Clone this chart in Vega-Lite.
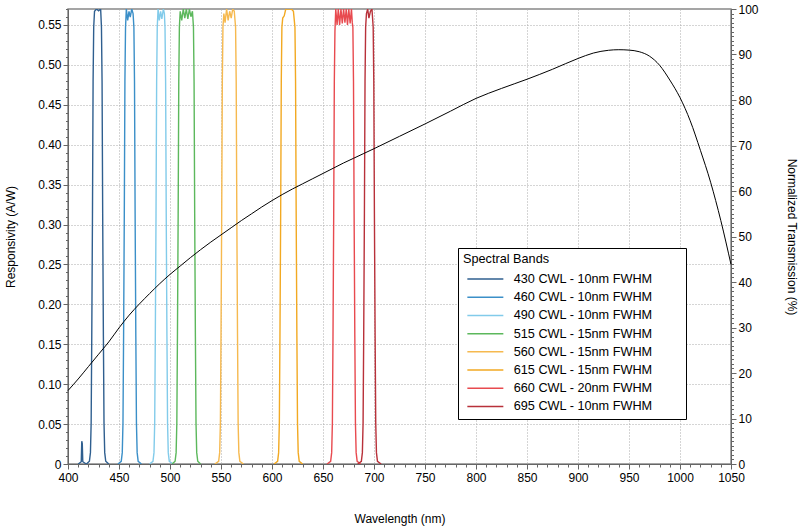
{
  "$schema": "https://vega.github.io/schema/vega-lite/v6.json",
  "width": 663,
  "height": 455,
  "autosize": {"type": "none"},
  "padding": {"left": 68, "top": 9, "right": 69, "bottom": 66},
  "config": {
    "font": "Liberation Sans",
    "view": {"stroke": "#888888", "strokeWidth": 1.5},
    "axis": {"domainColor": "#666666", "tickColor": "#666666", "labelColor": "black", "titleColor": "black", "labelFontSize": 12, "titleFontSize": 12, "titleFontWeight": "normal", "gridColor": "#aaaaaa", "gridDash": [1, 2]}
  },
  "datasets": {
    "resp": [
      {"nm": 400, "r": 0.092}, {"nm": 410, "r": 0.1065}, {"nm": 420, "r": 0.122}, {"nm": 430, "r": 0.1375},
      {"nm": 440, "r": 0.153}, {"nm": 450, "r": 0.1705}, {"nm": 460, "r": 0.1865}, {"nm": 470, "r": 0.2005},
      {"nm": 480, "r": 0.2135}, {"nm": 490, "r": 0.226}, {"nm": 500, "r": 0.2375}, {"nm": 510, "r": 0.248},
      {"nm": 520, "r": 0.2585}, {"nm": 530, "r": 0.2685}, {"nm": 540, "r": 0.278}, {"nm": 550, "r": 0.287},
      {"nm": 560, "r": 0.296}, {"nm": 570, "r": 0.305}, {"nm": 580, "r": 0.3135}, {"nm": 590, "r": 0.322},
      {"nm": 600, "r": 0.330}, {"nm": 610, "r": 0.3375}, {"nm": 620, "r": 0.3445}, {"nm": 630, "r": 0.351},
      {"nm": 640, "r": 0.3575}, {"nm": 650, "r": 0.364}, {"nm": 660, "r": 0.3705}, {"nm": 670, "r": 0.377},
      {"nm": 680, "r": 0.383}, {"nm": 690, "r": 0.389}, {"nm": 700, "r": 0.395}, {"nm": 725, "r": 0.4105},
      {"nm": 750, "r": 0.426}, {"nm": 775, "r": 0.442}, {"nm": 800, "r": 0.458}, {"nm": 825, "r": 0.4705},
      {"nm": 850, "r": 0.482}, {"nm": 875, "r": 0.4945}, {"nm": 900, "r": 0.508}, {"nm": 915, "r": 0.5148},
      {"nm": 930, "r": 0.5183}, {"nm": 940, "r": 0.519}, {"nm": 950, "r": 0.5185}, {"nm": 960, "r": 0.5165},
      {"nm": 970, "r": 0.511}, {"nm": 980, "r": 0.4995}, {"nm": 990, "r": 0.481}, {"nm": 1000, "r": 0.459},
      {"nm": 1010, "r": 0.430}, {"nm": 1020, "r": 0.393}, {"nm": 1030, "r": 0.353}, {"nm": 1040, "r": 0.305},
      {"nm": 1050, "r": 0.250}
    ],
    "bands": [
      {"band": "430 CWL - 10nm FWHM", "nm": 410, "t": 0},
      {"band": "430 CWL - 10nm FWHM", "nm": 413, "t": 0.5},
      {"band": "430 CWL - 10nm FWHM", "nm": 413.5, "t": 5},
      {"band": "430 CWL - 10nm FWHM", "nm": 414, "t": 4.5},
      {"band": "430 CWL - 10nm FWHM", "nm": 414.5, "t": 0.5},
      {"band": "430 CWL - 10nm FWHM", "nm": 418, "t": 0},
      {"band": "430 CWL - 10nm FWHM", "nm": 421, "t": 0.6},
      {"band": "430 CWL - 10nm FWHM", "nm": 422, "t": 2.5},
      {"band": "430 CWL - 10nm FWHM", "nm": 422.7, "t": 9},
      {"band": "430 CWL - 10nm FWHM", "nm": 423.3, "t": 28},
      {"band": "430 CWL - 10nm FWHM", "nm": 424, "t": 55},
      {"band": "430 CWL - 10nm FWHM", "nm": 424.6, "t": 84},
      {"band": "430 CWL - 10nm FWHM", "nm": 425.2, "t": 96},
      {"band": "430 CWL - 10nm FWHM", "nm": 426, "t": 99.5},
      {"band": "430 CWL - 10nm FWHM", "nm": 428, "t": 100},
      {"band": "430 CWL - 10nm FWHM", "nm": 430, "t": 99.6},
      {"band": "430 CWL - 10nm FWHM", "nm": 432, "t": 100},
      {"band": "430 CWL - 10nm FWHM", "nm": 432.8, "t": 96},
      {"band": "430 CWL - 10nm FWHM", "nm": 433.4, "t": 84},
      {"band": "430 CWL - 10nm FWHM", "nm": 434, "t": 55},
      {"band": "430 CWL - 10nm FWHM", "nm": 434.7, "t": 28},
      {"band": "430 CWL - 10nm FWHM", "nm": 435.3, "t": 9},
      {"band": "430 CWL - 10nm FWHM", "nm": 436, "t": 2.5},
      {"band": "430 CWL - 10nm FWHM", "nm": 437, "t": 0.6},
      {"band": "430 CWL - 10nm FWHM", "nm": 440, "t": 0},

      {"band": "460 CWL - 10nm FWHM", "nm": 449, "t": 0},
      {"band": "460 CWL - 10nm FWHM", "nm": 452.2, "t": 0.6},
      {"band": "460 CWL - 10nm FWHM", "nm": 453.2, "t": 2.5},
      {"band": "460 CWL - 10nm FWHM", "nm": 453.9, "t": 9},
      {"band": "460 CWL - 10nm FWHM", "nm": 454.5, "t": 28},
      {"band": "460 CWL - 10nm FWHM", "nm": 455.2, "t": 55},
      {"band": "460 CWL - 10nm FWHM", "nm": 455.8, "t": 84},
      {"band": "460 CWL - 10nm FWHM", "nm": 456.4, "t": 96},
      {"band": "460 CWL - 10nm FWHM", "nm": 457.2, "t": 100},
      {"band": "460 CWL - 10nm FWHM", "nm": 458.5, "t": 97.5},
      {"band": "460 CWL - 10nm FWHM", "nm": 459.8, "t": 99.5},
      {"band": "460 CWL - 10nm FWHM", "nm": 461, "t": 98.2},
      {"band": "460 CWL - 10nm FWHM", "nm": 462.5, "t": 100},
      {"band": "460 CWL - 10nm FWHM", "nm": 463.8, "t": 99},
      {"band": "460 CWL - 10nm FWHM", "nm": 464.6, "t": 96},
      {"band": "460 CWL - 10nm FWHM", "nm": 465.2, "t": 84},
      {"band": "460 CWL - 10nm FWHM", "nm": 465.8, "t": 55},
      {"band": "460 CWL - 10nm FWHM", "nm": 466.5, "t": 28},
      {"band": "460 CWL - 10nm FWHM", "nm": 467.1, "t": 9},
      {"band": "460 CWL - 10nm FWHM", "nm": 467.8, "t": 2.5},
      {"band": "460 CWL - 10nm FWHM", "nm": 468.8, "t": 0.6},
      {"band": "460 CWL - 10nm FWHM", "nm": 472, "t": 0},

      {"band": "490 CWL - 10nm FWHM", "nm": 480, "t": 0},
      {"band": "490 CWL - 10nm FWHM", "nm": 483.3, "t": 0.6},
      {"band": "490 CWL - 10nm FWHM", "nm": 484.3, "t": 2.5},
      {"band": "490 CWL - 10nm FWHM", "nm": 485, "t": 9},
      {"band": "490 CWL - 10nm FWHM", "nm": 485.6, "t": 28},
      {"band": "490 CWL - 10nm FWHM", "nm": 486.3, "t": 55},
      {"band": "490 CWL - 10nm FWHM", "nm": 486.9, "t": 84},
      {"band": "490 CWL - 10nm FWHM", "nm": 487.5, "t": 96},
      {"band": "490 CWL - 10nm FWHM", "nm": 488.3, "t": 100},
      {"band": "490 CWL - 10nm FWHM", "nm": 489.5, "t": 97.5},
      {"band": "490 CWL - 10nm FWHM", "nm": 490.8, "t": 99.5},
      {"band": "490 CWL - 10nm FWHM", "nm": 492, "t": 97.8},
      {"band": "490 CWL - 10nm FWHM", "nm": 493.5, "t": 100},
      {"band": "490 CWL - 10nm FWHM", "nm": 494.5, "t": 99},
      {"band": "490 CWL - 10nm FWHM", "nm": 495.1, "t": 96},
      {"band": "490 CWL - 10nm FWHM", "nm": 495.7, "t": 84},
      {"band": "490 CWL - 10nm FWHM", "nm": 496.3, "t": 55},
      {"band": "490 CWL - 10nm FWHM", "nm": 497, "t": 28},
      {"band": "490 CWL - 10nm FWHM", "nm": 497.6, "t": 9},
      {"band": "490 CWL - 10nm FWHM", "nm": 498.3, "t": 2.5},
      {"band": "490 CWL - 10nm FWHM", "nm": 499.3, "t": 0.6},
      {"band": "490 CWL - 10nm FWHM", "nm": 503, "t": 0},

      {"band": "515 CWL - 15nm FWHM", "nm": 502, "t": 0},
      {"band": "515 CWL - 15nm FWHM", "nm": 505, "t": 0.6},
      {"band": "515 CWL - 15nm FWHM", "nm": 506, "t": 2.5},
      {"band": "515 CWL - 15nm FWHM", "nm": 506.7, "t": 9},
      {"band": "515 CWL - 15nm FWHM", "nm": 507.3, "t": 28},
      {"band": "515 CWL - 15nm FWHM", "nm": 508, "t": 55},
      {"band": "515 CWL - 15nm FWHM", "nm": 508.6, "t": 84},
      {"band": "515 CWL - 15nm FWHM", "nm": 509.2, "t": 96},
      {"band": "515 CWL - 15nm FWHM", "nm": 510, "t": 99.5},
      {"band": "515 CWL - 15nm FWHM", "nm": 511.5, "t": 97.5},
      {"band": "515 CWL - 15nm FWHM", "nm": 513, "t": 100},
      {"band": "515 CWL - 15nm FWHM", "nm": 514.5, "t": 98},
      {"band": "515 CWL - 15nm FWHM", "nm": 516, "t": 100},
      {"band": "515 CWL - 15nm FWHM", "nm": 517.5, "t": 97.8},
      {"band": "515 CWL - 15nm FWHM", "nm": 519, "t": 100},
      {"band": "515 CWL - 15nm FWHM", "nm": 520.5, "t": 98.3},
      {"band": "515 CWL - 15nm FWHM", "nm": 522, "t": 99.5},
      {"band": "515 CWL - 15nm FWHM", "nm": 523, "t": 96},
      {"band": "515 CWL - 15nm FWHM", "nm": 523.6, "t": 84},
      {"band": "515 CWL - 15nm FWHM", "nm": 524.2, "t": 55},
      {"band": "515 CWL - 15nm FWHM", "nm": 524.9, "t": 28},
      {"band": "515 CWL - 15nm FWHM", "nm": 525.5, "t": 9},
      {"band": "515 CWL - 15nm FWHM", "nm": 526.2, "t": 2.5},
      {"band": "515 CWL - 15nm FWHM", "nm": 527.2, "t": 0.6},
      {"band": "515 CWL - 15nm FWHM", "nm": 530, "t": 0},

      {"band": "560 CWL - 15nm FWHM", "nm": 544, "t": 0},
      {"band": "560 CWL - 15nm FWHM", "nm": 547.7, "t": 0.6},
      {"band": "560 CWL - 15nm FWHM", "nm": 548.7, "t": 2.5},
      {"band": "560 CWL - 15nm FWHM", "nm": 549.4, "t": 9},
      {"band": "560 CWL - 15nm FWHM", "nm": 550, "t": 28},
      {"band": "560 CWL - 15nm FWHM", "nm": 550.7, "t": 55},
      {"band": "560 CWL - 15nm FWHM", "nm": 551.3, "t": 84},
      {"band": "560 CWL - 15nm FWHM", "nm": 551.9, "t": 96},
      {"band": "560 CWL - 15nm FWHM", "nm": 552.8, "t": 99},
      {"band": "560 CWL - 15nm FWHM", "nm": 554, "t": 97},
      {"band": "560 CWL - 15nm FWHM", "nm": 555.5, "t": 100},
      {"band": "560 CWL - 15nm FWHM", "nm": 557, "t": 97.5},
      {"band": "560 CWL - 15nm FWHM", "nm": 558.5, "t": 99.5},
      {"band": "560 CWL - 15nm FWHM", "nm": 560, "t": 98},
      {"band": "560 CWL - 15nm FWHM", "nm": 561.5, "t": 100},
      {"band": "560 CWL - 15nm FWHM", "nm": 563, "t": 99.5},
      {"band": "560 CWL - 15nm FWHM", "nm": 564.3, "t": 96},
      {"band": "560 CWL - 15nm FWHM", "nm": 564.9, "t": 84},
      {"band": "560 CWL - 15nm FWHM", "nm": 565.5, "t": 55},
      {"band": "560 CWL - 15nm FWHM", "nm": 566.2, "t": 28},
      {"band": "560 CWL - 15nm FWHM", "nm": 566.8, "t": 9},
      {"band": "560 CWL - 15nm FWHM", "nm": 567.5, "t": 2.5},
      {"band": "560 CWL - 15nm FWHM", "nm": 568.5, "t": 0.6},
      {"band": "560 CWL - 15nm FWHM", "nm": 572, "t": 0},

      {"band": "615 CWL - 15nm FWHM", "nm": 602, "t": 0},
      {"band": "615 CWL - 15nm FWHM", "nm": 605.5, "t": 0.6},
      {"band": "615 CWL - 15nm FWHM", "nm": 606.5, "t": 2.5},
      {"band": "615 CWL - 15nm FWHM", "nm": 607.2, "t": 9},
      {"band": "615 CWL - 15nm FWHM", "nm": 607.8, "t": 28},
      {"band": "615 CWL - 15nm FWHM", "nm": 608.5, "t": 55},
      {"band": "615 CWL - 15nm FWHM", "nm": 609.1, "t": 84},
      {"band": "615 CWL - 15nm FWHM", "nm": 609.7, "t": 96},
      {"band": "615 CWL - 15nm FWHM", "nm": 610.5, "t": 98},
      {"band": "615 CWL - 15nm FWHM", "nm": 612, "t": 98.5},
      {"band": "615 CWL - 15nm FWHM", "nm": 613.5, "t": 100},
      {"band": "615 CWL - 15nm FWHM", "nm": 616, "t": 100},
      {"band": "615 CWL - 15nm FWHM", "nm": 619, "t": 100},
      {"band": "615 CWL - 15nm FWHM", "nm": 621, "t": 99.5},
      {"band": "615 CWL - 15nm FWHM", "nm": 622.5, "t": 96},
      {"band": "615 CWL - 15nm FWHM", "nm": 623.1, "t": 84},
      {"band": "615 CWL - 15nm FWHM", "nm": 623.7, "t": 55},
      {"band": "615 CWL - 15nm FWHM", "nm": 624.4, "t": 28},
      {"band": "615 CWL - 15nm FWHM", "nm": 625, "t": 9},
      {"band": "615 CWL - 15nm FWHM", "nm": 625.7, "t": 2.5},
      {"band": "615 CWL - 15nm FWHM", "nm": 626.7, "t": 0.6},
      {"band": "615 CWL - 15nm FWHM", "nm": 630, "t": 0},

      {"band": "660 CWL - 20nm FWHM", "nm": 654, "t": 0},
      {"band": "660 CWL - 20nm FWHM", "nm": 657.5, "t": 0.6},
      {"band": "660 CWL - 20nm FWHM", "nm": 658.5, "t": 2.5},
      {"band": "660 CWL - 20nm FWHM", "nm": 659.2, "t": 9},
      {"band": "660 CWL - 20nm FWHM", "nm": 659.8, "t": 28},
      {"band": "660 CWL - 20nm FWHM", "nm": 660.5, "t": 55},
      {"band": "660 CWL - 20nm FWHM", "nm": 661.1, "t": 84},
      {"band": "660 CWL - 20nm FWHM", "nm": 661.7, "t": 95},
      {"band": "660 CWL - 20nm FWHM", "nm": 662.5, "t": 100},
      {"band": "660 CWL - 20nm FWHM", "nm": 663.8, "t": 96.5},
      {"band": "660 CWL - 20nm FWHM", "nm": 665, "t": 100},
      {"band": "660 CWL - 20nm FWHM", "nm": 666.3, "t": 96.5},
      {"band": "660 CWL - 20nm FWHM", "nm": 667.6, "t": 100},
      {"band": "660 CWL - 20nm FWHM", "nm": 668.9, "t": 96.8},
      {"band": "660 CWL - 20nm FWHM", "nm": 670.2, "t": 100},
      {"band": "660 CWL - 20nm FWHM", "nm": 671.5, "t": 97},
      {"band": "660 CWL - 20nm FWHM", "nm": 672.8, "t": 100},
      {"band": "660 CWL - 20nm FWHM", "nm": 674, "t": 96.5},
      {"band": "660 CWL - 20nm FWHM", "nm": 675.3, "t": 100},
      {"band": "660 CWL - 20nm FWHM", "nm": 676.6, "t": 96.8},
      {"band": "660 CWL - 20nm FWHM", "nm": 677.9, "t": 100},
      {"band": "660 CWL - 20nm FWHM", "nm": 678.7, "t": 97},
      {"band": "660 CWL - 20nm FWHM", "nm": 679.3, "t": 96},
      {"band": "660 CWL - 20nm FWHM", "nm": 679.9, "t": 84},
      {"band": "660 CWL - 20nm FWHM", "nm": 680.5, "t": 55},
      {"band": "660 CWL - 20nm FWHM", "nm": 681.2, "t": 28},
      {"band": "660 CWL - 20nm FWHM", "nm": 681.8, "t": 9},
      {"band": "660 CWL - 20nm FWHM", "nm": 682.5, "t": 2.5},
      {"band": "660 CWL - 20nm FWHM", "nm": 683.5, "t": 0.6},
      {"band": "660 CWL - 20nm FWHM", "nm": 687, "t": 0},

      {"band": "695 CWL - 10nm FWHM", "nm": 684, "t": 0},
      {"band": "695 CWL - 10nm FWHM", "nm": 687.6, "t": 0.6},
      {"band": "695 CWL - 10nm FWHM", "nm": 688.6, "t": 2.5},
      {"band": "695 CWL - 10nm FWHM", "nm": 689.3, "t": 9},
      {"band": "695 CWL - 10nm FWHM", "nm": 689.9, "t": 28},
      {"band": "695 CWL - 10nm FWHM", "nm": 690.6, "t": 55},
      {"band": "695 CWL - 10nm FWHM", "nm": 691.2, "t": 84},
      {"band": "695 CWL - 10nm FWHM", "nm": 691.8, "t": 96},
      {"band": "695 CWL - 10nm FWHM", "nm": 692.6, "t": 99},
      {"band": "695 CWL - 10nm FWHM", "nm": 693.8, "t": 100},
      {"band": "695 CWL - 10nm FWHM", "nm": 695, "t": 98},
      {"band": "695 CWL - 10nm FWHM", "nm": 696.5, "t": 99.5},
      {"band": "695 CWL - 10nm FWHM", "nm": 698, "t": 100},
      {"band": "695 CWL - 10nm FWHM", "nm": 699.2, "t": 96},
      {"band": "695 CWL - 10nm FWHM", "nm": 699.8, "t": 84},
      {"band": "695 CWL - 10nm FWHM", "nm": 700.4, "t": 55},
      {"band": "695 CWL - 10nm FWHM", "nm": 701.1, "t": 28},
      {"band": "695 CWL - 10nm FWHM", "nm": 701.7, "t": 9},
      {"band": "695 CWL - 10nm FWHM", "nm": 702.4, "t": 2.5},
      {"band": "695 CWL - 10nm FWHM", "nm": 703.4, "t": 0.6},
      {"band": "695 CWL - 10nm FWHM", "nm": 707, "t": 0}
    ]
  },
  "layer": [
    {
      "data": {"name": "bands"},
      "mark": {"type": "line", "strokeWidth": 1.4, "clip": true},
      "encoding": {
        "x": {"field": "nm", "type": "quantitative", "scale": {"domain": [400, 1050], "nice": false, "zero": false}, "axis": null},
        "y": {
          "field": "t", "type": "quantitative",
          "scale": {"domain": [0, 100], "nice": false},
          "axis": {"orient": "right", "values": [0, 10, 20, 30, 40, 50, 60, 70, 80, 90, 100], "grid": false, "tickSize": 5, "labelPadding": 2, "title": "Normalized Transmission (%)", "titlePadding": 26}
        },
        "color": {
          "field": "band", "type": "nominal",
          "scale": {
            "domain": ["430 CWL - 10nm FWHM", "460 CWL - 10nm FWHM", "490 CWL - 10nm FWHM", "515 CWL - 15nm FWHM", "560 CWL - 15nm FWHM", "615 CWL - 15nm FWHM", "660 CWL - 20nm FWHM", "695 CWL - 10nm FWHM"],
            "range": ["#2f5f8f", "#3b8fc8", "#82cbea", "#5cb85c", "#f6b94f", "#f2a922", "#e84a4f", "#b8313a"]
          },
          "legend": {
            "orient": "none", "legendX": 390, "legendY": 239,
            "title": "Spectral Bands", "titleFontSize": 12.7, "titleFontWeight": "normal", "titleColor": "black", "titlePadding": 7,
            "labelFontSize": 12.7, "labelColor": "black", "labelOffset": 22, "labelLimit": 0,
            "labelExpr": "datum.label + '\u00a0\u00a0\u00a0\u00a0\u00a0\u2800'",
            "symbolType": "M-9,0H9", "symbolSize": 16, "symbolOffset": 16, "symbolStrokeWidth": 1.5,
            "strokeColor": "black", "fillColor": "white", "padding": 5, "rowPadding": 4.2
          }
        }
      }
    },
    {
      "data": {"name": "resp"},
      "mark": {"type": "line", "color": "black", "strokeWidth": 1, "interpolate": "monotone"},
      "encoding": {
        "x": {
          "field": "nm", "type": "quantitative", "scale": {"domain": [400, 1050], "nice": false, "zero": false},
          "axis": {"orient": "bottom", "values": [400, 450, 500, 550, 600, 650, 700, 750, 800, 850, 900, 950, 1000, 1050], "format": "d", "labelFlush": false, "grid": true, "tickSize": 5, "labelPadding": 3, "title": "Wavelength (nm)", "titlePadding": 30}
        },
        "y": {
          "field": "r", "type": "quantitative",
          "scale": {"domain": [0, 0.57], "nice": false},
          "axis": {"orient": "left", "values": [0, 0.05, 0.1, 0.15, 0.2, 0.25, 0.3, 0.35, 0.4, 0.45, 0.5, 0.55], "grid": true, "tickSize": 5, "labelPadding": 2, "labelExpr": "datum.value == 0 ? '0' : format(datum.value, '.2f')", "title": "Responsivity (A/W)", "titlePadding": 20}
        }
      }
    },
    {
      "data": {"name": "resp"},
      "mark": {"type": "line", "opacity": 0},
      "encoding": {
        "x": {
          "field": "nm", "type": "quantitative", "scale": {"domain": [400, 1050], "nice": false, "zero": false},
          "axis": {"orient": "bottom", "tickCount": 65, "labels": false, "domain": false, "grid": false, "tickSize": 3, "title": null}
        },
        "y": {
          "field": "r", "type": "quantitative",
          "scale": {"domain": [0, 0.57], "nice": false},
          "axis": {"orient": "left", "tickCount": 57, "labels": false, "domain": false, "grid": false, "tickSize": 2.5, "title": null}
        }
      }
    },
    {
      "data": {"name": "resp"},
      "mark": {"type": "line", "opacity": 0},
      "encoding": {
        "x": {"field": "nm", "type": "quantitative", "scale": {"domain": [400, 1050], "nice": false, "zero": false}, "axis": null},
        "y": {
          "field": "r", "type": "quantitative",
          "scale": {"domain": [0, 100], "nice": false},
          "axis": {"orient": "right", "tickCount": 100, "labels": false, "domain": false, "grid": false, "tickSize": 2.5, "title": null}
        }
      }
    }
  ],
  "resolve": {"scale": {"y": "independent"}, "axis": {"x": "independent", "y": "independent"}}
}
